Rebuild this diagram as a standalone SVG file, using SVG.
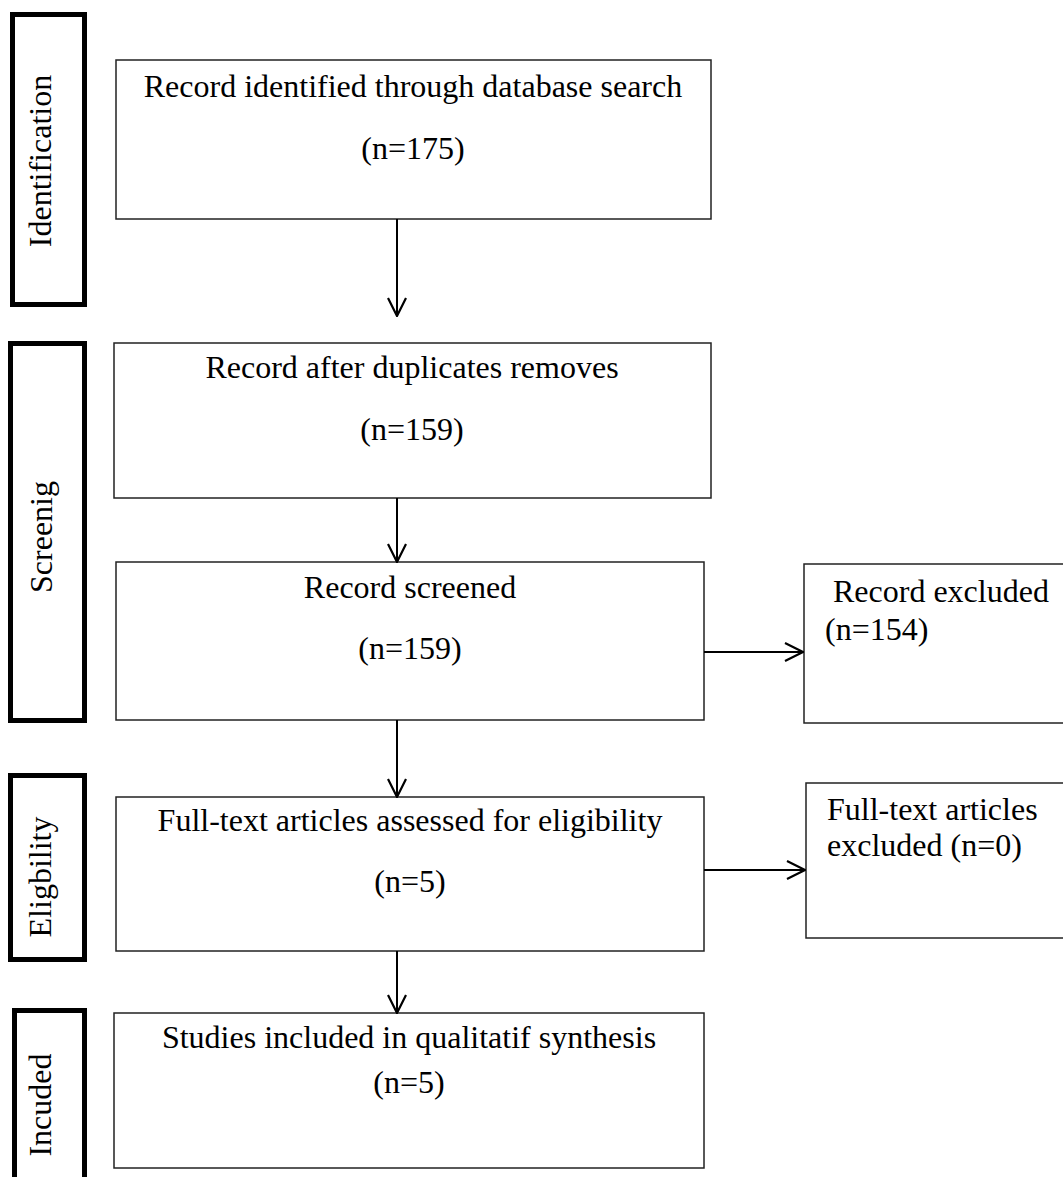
<svg xmlns="http://www.w3.org/2000/svg" width="1063" height="1177" viewBox="0 0 1063 1177">
<style>
.box{fill:#fff;stroke:#222;stroke-width:1.5}
.stage{fill:#fff;stroke:#000;stroke-width:5}
.t{font-family:"Liberation Serif","Times New Roman",serif;font-size:32px;fill:#000}
.c{text-anchor:middle}
.conn{stroke:#000;stroke-width:2;fill:none}
</style>
<defs>
<marker id="arr" viewBox="0 0 20 20" refX="19" refY="10" markerWidth="20" markerHeight="20" markerUnits="userSpaceOnUse" orient="auto">
<path d="M1,1 L19,10 L1,19" fill="none" stroke="#000" stroke-width="2.2"/>
</marker>
</defs>
<rect width="1063" height="1177" fill="#fff"/>
<g id="stage-identification">
<rect class="stage" x="12.5" y="14.5" width="72" height="290"/>
<text class="t c" x="51" y="161" transform="rotate(-90 51 161)">Identification</text>
</g>
<g id="stage-screening">
<rect class="stage" x="10.5" y="343.5" width="74" height="377"/>
<text class="t c" x="52" y="537" transform="rotate(-90 52 537)">Screenig</text>
</g>
<g id="stage-eligibility">
<rect class="stage" x="10.5" y="775.5" width="74" height="184"/>
<text class="t c" x="51" y="877" transform="rotate(-90 51 877)">Eligbility</text>
</g>
<g id="stage-included">
<rect class="stage" x="14.5" y="1010.5" width="70" height="190"/>
<text class="t c" x="51" y="1105" transform="rotate(-90 51 1105)">Incuded</text>
</g>
<g id="n1">
<rect class="box" x="116" y="60" width="595" height="159"/>
<text class="t c" x="413" y="97">Record identified through database search</text>
<text class="t c" x="413" y="159">(n=175)</text>
</g>
<g id="n2">
<rect class="box" x="114" y="343" width="597" height="155"/>
<text class="t c" x="412" y="378">Record after duplicates removes</text>
<text class="t c" x="412" y="440">(n=159)</text>
</g>
<g id="n3">
<rect class="box" x="116" y="562" width="588" height="158"/>
<text class="t c" x="410" y="598">Record screened</text>
<text class="t c" x="410" y="659">(n=159)</text>
</g>
<g id="n4">
<rect class="box" x="116" y="797" width="588" height="154"/>
<text class="t c" x="410" y="831">Full-text articles assessed for eligibility</text>
<text class="t c" x="410" y="892">(n=5)</text>
</g>
<g id="n5">
<rect class="box" x="114" y="1013" width="590" height="155"/>
<text class="t c" x="409" y="1048">Studies included in qualitatif synthesis</text>
<text class="t c" x="409" y="1093">(n=5)</text>
</g>
<g id="r1">
<rect class="box" x="804" y="564" width="270" height="159"/>
<text class="t" x="833" y="602">Record excluded</text>
<text class="t" x="825" y="640">(n=154)</text>
</g>
<g id="r2">
<rect class="box" x="806" y="783" width="270" height="155"/>
<text class="t" x="827" y="820">Full-text articles</text>
<text class="t" x="827" y="856">excluded (n=0)</text>
</g>
<g id="connectors">
<line class="conn" x1="397" y1="219" x2="397" y2="316" marker-end="url(#arr)"/>
<line class="conn" x1="397" y1="498" x2="397" y2="562" marker-end="url(#arr)"/>
<line class="conn" x1="397" y1="720" x2="397" y2="797" marker-end="url(#arr)"/>
<line class="conn" x1="397" y1="951" x2="397" y2="1013" marker-end="url(#arr)"/>
<line class="conn" x1="704" y1="652" x2="803" y2="652" marker-end="url(#arr)"/>
<line class="conn" x1="704" y1="870" x2="805" y2="870" marker-end="url(#arr)"/>
</g>
</svg>
